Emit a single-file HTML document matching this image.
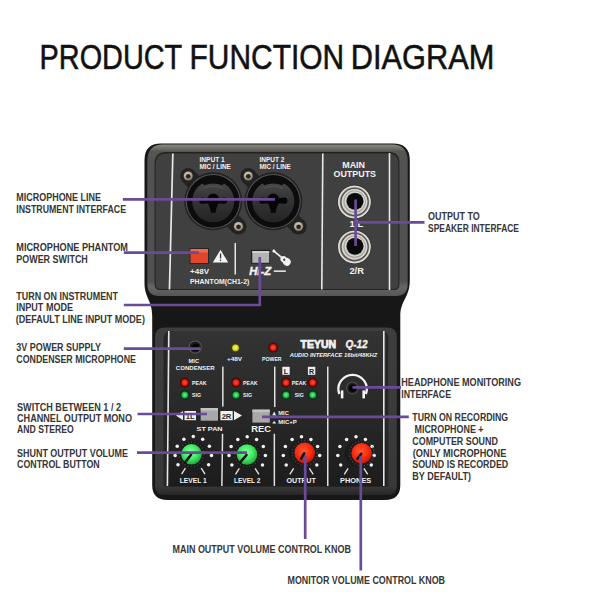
<!DOCTYPE html>
<html><head><meta charset="utf-8">
<style>
html,body{margin:0;padding:0;background:#fff;width:600px;height:600px;overflow:hidden}
svg{display:block}
text{font-family:"Liberation Sans",sans-serif}
.lb{font-size:11px;fill:#363636;font-weight:bold}
.w{fill:#f2f2f2;font-weight:bold}
.pl{stroke:#6a4b98;stroke-width:2.7;fill:none}
</style></head><body>
<svg width="600" height="600" viewBox="0 0 600 600">
<defs>
<radialGradient id="silver" cx="45%" cy="40%" r="60%">
<stop offset="0" stop-color="#e4dccc"/><stop offset="0.6" stop-color="#b8ae9c"/><stop offset="1" stop-color="#6e665a"/>
</radialGradient>
<linearGradient id="xlrface" x1="0" y1="0" x2="0" y2="1">
<stop offset="0" stop-color="#4a4a4a"/><stop offset="0.35" stop-color="#383838"/><stop offset="1" stop-color="#242424"/>
</linearGradient>
<radialGradient id="gk" cx="45%" cy="40%" r="60%">
<stop offset="0" stop-color="#8cffa4"/><stop offset="0.55" stop-color="#42ec66"/><stop offset="1" stop-color="#20a83e"/>
</radialGradient>
<radialGradient id="rk" cx="45%" cy="40%" r="60%">
<stop offset="0" stop-color="#ff5a36"/><stop offset="0.6" stop-color="#fa2c10"/><stop offset="1" stop-color="#c01808"/>
</radialGradient>
<linearGradient id="rimg" x1="0" y1="0" x2="0" y2="1">
<stop offset="0" stop-color="#8c8a82"/><stop offset="0.048" stop-color="#56564f"/><stop offset="0.12" stop-color="#525252"/><stop offset="0.9" stop-color="#505050"/><stop offset="0.94" stop-color="#666"/><stop offset="1" stop-color="#555"/>
</linearGradient>
<linearGradient id="lrimg" x1="0" y1="0" x2="0" y2="1">
<stop offset="0" stop-color="#3e3e3e"/><stop offset="0.95" stop-color="#383838"/><stop offset="1" stop-color="#262626"/>
</linearGradient>
<radialGradient id="silver2" cx="40%" cy="35%" r="70%">
<stop offset="0" stop-color="#f2f2ee"/><stop offset="0.5" stop-color="#c6c4bd"/><stop offset="1" stop-color="#74726d"/>
</radialGradient>
<linearGradient id="lpg" x1="0" y1="0" x2="0" y2="1">
<stop offset="0" stop-color="#333"/><stop offset="0.45" stop-color="#2a2a2a"/><stop offset="1" stop-color="#1c1c1c"/>
</linearGradient>
<radialGradient id="ledr"><stop offset="0" stop-color="#ff5040"/><stop offset="0.7" stop-color="#f02010"/><stop offset="1" stop-color="#a01008"/></radialGradient>
<radialGradient id="ledg"><stop offset="0" stop-color="#80f0a0"/><stop offset="0.6" stop-color="#30c855"/><stop offset="1" stop-color="#16803a"/></radialGradient>
<radialGradient id="ledy"><stop offset="0" stop-color="#f8f860"/><stop offset="0.7" stop-color="#d8d830"/><stop offset="1" stop-color="#8a8a18"/></radialGradient>
</defs>

<!-- Title -->
<g fill="#111" stroke="#111" stroke-width="0.55" font-size="35.3">
<text x="39.6" y="68.6" textLength="142.6" lengthAdjust="spacingAndGlyphs">PRODUCT</text>
<text x="189.6" y="68.6" textLength="154.6" lengthAdjust="spacingAndGlyphs">FUNCTION</text>
<text x="350.8" y="68.6" textLength="143.6" lengthAdjust="spacingAndGlyphs">DIAGRAM</text>
</g>

<!-- ===== DEVICE BODY ===== -->
<path d="M144.5,160 Q144.5,143.4 161,143.4 L393,143.4 Q409.8,143.4 409.8,160 L409.8,280 C409.8,298 400.3,300 400.3,316 L400.3,485 Q400.3,500 385,500 L167.5,500 Q152.2,500 152.2,485 L152.2,316 C152.2,300 144.5,298 144.5,283 Z" fill="#171717"/>
<!-- upper rim -->
<path d="M147.3,161 Q147.3,144.4 163,144.4 L392,144.4 Q407.7,144.4 407.7,161 L407.7,284 Q407.7,296 396,296 L159,296 Q147.3,296 147.3,284 Z" fill="url(#rimg)"/>
<!-- groove + panel -->
<path d="M154.6,164 Q154.6,152 166,152 L389,152 Q399.4,152 399.4,163 L399.4,284 Q399.4,290 394,290 L160,290 Q154.6,290 154.6,284 Z" fill="#222"/>
<path d="M155.6,164.5 Q155.6,153.5 166.5,153.5 L388.5,153.5 Q398.4,153.5 398.4,163.5 L398.4,283.5 Q398.4,289 393.5,289 L160.5,289 Q155.6,289 155.6,283.5 Z" fill="#404040"/>
<!-- lower rim -->
<path d="M155,337 Q155,327.5 165,327.5 L387,327.5 Q396.8,327.5 396.8,337 L396.8,486 Q396.8,495 388,495 L164,495 Q155,495 155,486 Z" fill="url(#lrimg)"/>
<path d="M163.5,340 Q163.5,331 171,331 L381,331 Q388.3,331 388.3,339 L388.3,486.5 L163.5,486.5 Z" fill="#262626"/>
<path d="M167,340 Q167,331 174,331 L381,331 Q386,331 386,338 L386,486.5 L167,486.5 Z" fill="url(#lpg)"/>
<!-- upper panel white lines -->
<path d="M172,153.5 L173.7,153.5 L170.3,289.5 L168.6,289.5 Z" fill="#e8e8e8"/>
<path d="M322,153.5 L323.6,153.5 L322.6,289.5 L321,289.5 Z" fill="#e8e8e8"/>
<rect x="388.7" y="153" width="1.6" height="137" fill="#e8e8e8"/>

<!-- INPUT labels -->
<text x="199.4" y="162.4" font-size="6.4" class="w" textLength="25.4" lengthAdjust="spacingAndGlyphs">INPUT 1</text>
<text x="199.4" y="169" font-size="6.4" class="w" textLength="31.4" lengthAdjust="spacingAndGlyphs">MIC / LINE</text>
<text x="259.4" y="162.4" font-size="6.4" class="w" textLength="25" lengthAdjust="spacingAndGlyphs">INPUT 2</text>
<text x="259.4" y="169" font-size="6.4" class="w" textLength="31.4" lengthAdjust="spacingAndGlyphs">MIC / LINE</text>

<!-- XLR combo jack 1 -->
<g transform="translate(213.2,201.3)">
<g>
<g fill="#222"><circle cx="0" cy="0" r="29"/><circle cx="-25" cy="-25.2" r="8"/><circle cx="25.3" cy="25.2" r="8"/><rect x="-36" y="-8" width="72" height="16" transform="rotate(45)"/></g>
<circle cx="0" cy="0" r="27.4" fill="#555"/>
<circle cx="0" cy="0" r="26.4" fill="#0c0c0c"/>
<circle cx="0" cy="0" r="21" fill="url(#xlrface)"/>
<path d="M-12,-19 Q0,-24 12,-19 L9,-16 Q0,-19.5 -9,-16 Z" fill="#0c0c0c"/>
<path d="M-10,-13 Q0,-17 10,-13" fill="none" stroke="#555" stroke-width="0.9"/>
<circle cx="0" cy="-2.3" r="5.6" fill="#060606"/>
<circle cx="-11" cy="-0.6" r="3.1" fill="#060606"/>
<circle cx="11" cy="-0.6" r="3.1" fill="#060606"/>
<rect x="-11" y="-3.4" width="22" height="5.6" fill="#060606"/>
<path d="M-5.5,1 L5.5,1 L2.6,9 L2.6,11.5 L-2.6,11.5 L-2.6,9 Z" fill="#060606"/>
<circle cx="-25" cy="-25.3" r="5.4" fill="#2a2825"/>
<circle cx="-25" cy="-25.3" r="4.6" fill="url(#silver)"/>
<circle cx="-25" cy="-25" r="2.4" fill="#2a2622"/>
<circle cx="25.3" cy="25.2" r="5.4" fill="#2a2825"/>
<circle cx="25.3" cy="25.2" r="4.6" fill="url(#silver)"/>
<circle cx="25.3" cy="25.5" r="2.4" fill="#2a2622"/>
</g>
</g>
<g transform="translate(273.3,201.3)">
<g fill="#222"><circle cx="0" cy="0" r="29"/><circle cx="-25" cy="-25.2" r="8"/><circle cx="25.3" cy="25.2" r="8"/><rect x="-36" y="-8" width="72" height="16" transform="rotate(45)"/></g>
<circle cx="0" cy="0" r="27.4" fill="#555"/>
<circle cx="0" cy="0" r="26.4" fill="#0c0c0c"/>
<circle cx="0" cy="0" r="21" fill="url(#xlrface)"/>
<path d="M-12,-19 Q0,-24 12,-19 L9,-16 Q0,-19.5 -9,-16 Z" fill="#0c0c0c"/>
<path d="M-10,-13 Q0,-17 10,-13" fill="none" stroke="#555" stroke-width="0.9"/>
<circle cx="0" cy="-2.3" r="5.6" fill="#060606"/>
<circle cx="-11" cy="-0.6" r="3.1" fill="#060606"/>
<circle cx="11" cy="-0.6" r="3.1" fill="#060606"/>
<rect x="-11" y="-3.4" width="22" height="5.6" fill="#060606"/>
<path d="M-5.5,1 L5.5,1 L2.6,9 L2.6,11.5 L-2.6,11.5 L-2.6,9 Z" fill="#060606"/>
<circle cx="-25" cy="-25.3" r="5.4" fill="#2a2825"/>
<circle cx="-25" cy="-25.3" r="4.6" fill="url(#silver)"/>
<circle cx="-25" cy="-25" r="2.4" fill="#2a2622"/>
<circle cx="25.3" cy="25.2" r="5.4" fill="#2a2825"/>
<circle cx="25.3" cy="25.2" r="4.6" fill="url(#silver)"/>
<circle cx="25.3" cy="25.5" r="2.4" fill="#2a2622"/>
</g>

<!-- phantom switch -->
<rect x="189.5" y="248" width="19.5" height="16" fill="#262626"/>
<rect x="190.5" y="249" width="17.5" height="14" fill="#e2452a"/>
<rect x="190.5" y="249" width="17.5" height="3.5" fill="#f26848"/>
<path d="M220.5,249.8 L228.2,262.5 L212.8,262.5 Z" fill="#f4f4f4"/>
<rect x="219.9" y="253.5" width="1.3" height="5" fill="#333"/>
<rect x="219.9" y="259.6" width="1.3" height="1.3" fill="#333"/>
<text x="190" y="274.3" font-size="7.6" class="w" textLength="19" lengthAdjust="spacingAndGlyphs">+48V</text>
<text x="190" y="284" font-size="7.3" class="w" textLength="59.3" lengthAdjust="spacingAndGlyphs">PHANTOM(CH1-2)</text>
<rect x="234.5" y="243" width="1.5" height="31.5" fill="#e6e6e6"/>

<!-- Hi-Z -->
<rect x="251.2" y="249.8" width="18.8" height="13.8" fill="#1e1e1e"/>
<rect x="252.3" y="251" width="16.9" height="11.8" fill="#b4b4b4"/>
<rect x="252.3" y="251" width="16.9" height="2" fill="#cfcfcf"/>
<g transform="translate(284.8,260.2) rotate(-50)" fill="#f2f2f2">
<rect x="-0.85" y="-14.5" width="1.7" height="11"/>
<rect x="-1.4" y="-15.5" width="2.8" height="2.5" rx="0.6"/>
<circle cx="0" cy="-1.6" r="3.1"/>
<circle cx="0" cy="2.6" r="3.9"/>
<circle cx="0" cy="-0.8" r="1.15" fill="#3b3b3b"/>
</g>
<text x="249.2" y="274.8" font-size="10" class="w" font-style="italic" stroke="#f2f2f2" stroke-width="0.35" textLength="22" lengthAdjust="spacingAndGlyphs">Hi-Z</text>
<rect x="273.8" y="270.4" width="12" height="1.5" fill="#eee"/>

<!-- MAIN OUTPUTS -->
<text x="342.2" y="167.5" font-size="8.4" class="w" textLength="22.9" lengthAdjust="spacingAndGlyphs">MAIN</text>
<text x="333.5" y="177" font-size="8.4" class="w" textLength="42.5" lengthAdjust="spacingAndGlyphs">OUTPUTS</text>
<g>
<circle cx="354.4" cy="202" r="17.2" fill="#3a3936"/>
<circle cx="354.4" cy="202" r="16.2" fill="#a4a29b"/>
<circle cx="354.4" cy="202" r="15.6" fill="none" stroke="#e2e0da" stroke-width="1.4"/>
<circle cx="354.5" cy="202" r="13.6" fill="none" stroke="#55534e" stroke-width="1.4"/>
<circle cx="354.6" cy="201.8" r="12" fill="none" stroke="#d8d6d0" stroke-width="1.6"/>
<circle cx="354.8" cy="201.5" r="10.2" fill="#aeaca6"/>
<circle cx="354.8" cy="201.5" r="9.6" fill="none" stroke="#e6e4de" stroke-width="1"/>
<circle cx="355" cy="201.3" r="8.4" fill="#0a0a0a"/>
</g>
<g transform="translate(0,45)">
<circle cx="354.4" cy="202" r="17.2" fill="#3a3936"/>
<circle cx="354.4" cy="202" r="16.2" fill="#a4a29b"/>
<circle cx="354.4" cy="202" r="15.6" fill="none" stroke="#e2e0da" stroke-width="1.4"/>
<circle cx="354.5" cy="202" r="13.6" fill="none" stroke="#55534e" stroke-width="1.4"/>
<circle cx="354.6" cy="201.8" r="12" fill="none" stroke="#d8d6d0" stroke-width="1.6"/>
<circle cx="354.8" cy="201.5" r="10.2" fill="#aeaca6"/>
<circle cx="354.8" cy="201.5" r="9.6" fill="none" stroke="#e6e4de" stroke-width="1"/>
<circle cx="355" cy="201.3" r="8.4" fill="#0a0a0a"/>
</g>
<text x="349.6" y="227.3" font-size="9.3" class="w" textLength="13.5" lengthAdjust="spacingAndGlyphs">1/L</text>
<text x="349.4" y="273.6" font-size="9.6" class="w" textLength="14.5" lengthAdjust="spacingAndGlyphs">2/R</text>

<!-- ===== LOWER PANEL ===== -->
<!-- white lines lower -->
<path d="M168,331 L169.6,331 L168.2,486 L166.6,486 Z" fill="#e6e6e6"/>
<rect x="383" y="331" width="1.6" height="155" fill="#e6e6e6"/>
<rect x="222.1" y="366.6" width="1.5" height="40" fill="#e0e0e0"/>
<path d="M221.8,433.8 L223.3,433.8 L222.6,486 L221.1,486 Z" fill="#e0e0e0"/>
<rect x="274" y="366.6" width="1.5" height="40.4" fill="#e0e0e0"/>
<rect x="273.6" y="433.8" width="1.5" height="52.2" fill="#e0e0e0"/>
<rect x="327" y="366.6" width="1.5" height="119.4" fill="#e0e0e0"/>

<!-- mic jack -->
<circle cx="195.3" cy="347" r="6.6" fill="#5a5a5a"/>
<circle cx="195.3" cy="347" r="5.6" fill="#1a1a1a"/>
<circle cx="195.6" cy="347.4" r="3.6" fill="#050505"/>
<text x="188.6" y="362.6" font-size="5.8" class="w" textLength="10.4" lengthAdjust="spacingAndGlyphs">MIC</text>
<text x="175.8" y="369.6" font-size="6" class="w" textLength="38.8" lengthAdjust="spacingAndGlyphs">CONDENSER</text>

<!-- +48V / POWER LEDs -->
<circle cx="235.5" cy="347.8" r="5" fill="#3a3a10"/>
<circle cx="235.5" cy="347.8" r="3.6" fill="url(#ledy)"/>
<text x="227.1" y="360.8" font-size="6" class="w" textLength="15" lengthAdjust="spacingAndGlyphs">+48V</text>
<circle cx="273.2" cy="347.5" r="5" fill="#4a0c08"/>
<circle cx="273.2" cy="347.5" r="3.6" fill="url(#ledr)"/>
<text x="262" y="361" font-size="6" class="w" textLength="19.6" lengthAdjust="spacingAndGlyphs">POWER</text>

<!-- Brand -->
<text x="300.6" y="347.6" font-size="10.2" class="w" font-weight="bold" stroke="#f2f2f2" stroke-width="0.75" textLength="35.4" lengthAdjust="spacingAndGlyphs">TEYUN</text>
<text x="345.4" y="347.6" font-size="10.2" class="w" font-style="italic" stroke="#f2f2f2" stroke-width="0.35" textLength="22.2" lengthAdjust="spacingAndGlyphs">Q-12</text>
<text x="289.8" y="356.8" font-size="5" class="w" font-style="italic" textLength="87.4" lengthAdjust="spacingAndGlyphs">AUDIO INTERFACE 16bit/48KHZ</text>

<!-- channel LEDs -->
<circle cx="184.8" cy="382.6" r="5" fill="#4a0c08"/><circle cx="184.8" cy="382.6" r="3.5" fill="url(#ledr)"/>
<circle cx="184.8" cy="394.9" r="5" fill="#0a3616"/><circle cx="184.8" cy="394.9" r="3.5" fill="url(#ledg)"/>
<circle cx="236" cy="382.6" r="5" fill="#4a0c08"/><circle cx="236" cy="382.6" r="3.5" fill="url(#ledr)"/>
<circle cx="236" cy="394.9" r="5" fill="#0a3616"/><circle cx="236" cy="394.9" r="3.5" fill="url(#ledg)"/>
<circle cx="286" cy="382.6" r="5" fill="#4a0c08"/><circle cx="286" cy="382.6" r="3.5" fill="url(#ledr)"/>
<circle cx="286" cy="394.9" r="5" fill="#0a3616"/><circle cx="286" cy="394.9" r="3.5" fill="url(#ledg)"/>
<circle cx="312.7" cy="382.6" r="5" fill="#4a0c08"/><circle cx="312.7" cy="382.6" r="3.5" fill="url(#ledr)"/>
<circle cx="312.7" cy="394.9" r="5" fill="#0a3616"/><circle cx="312.7" cy="394.9" r="3.5" fill="url(#ledg)"/>
<text x="192" y="384.8" font-size="5.4" class="w" textLength="14.6" lengthAdjust="spacingAndGlyphs">PEAK</text>
<text x="192" y="397.2" font-size="5.4" class="w" textLength="9" lengthAdjust="spacingAndGlyphs">SIG</text>
<text x="243" y="384.8" font-size="5.4" class="w" textLength="14.6" lengthAdjust="spacingAndGlyphs">PEAK</text>
<text x="243" y="397.2" font-size="5.4" class="w" textLength="9" lengthAdjust="spacingAndGlyphs">SIG</text>
<text x="291.8" y="384.8" font-size="5.4" class="w" textLength="14.6" lengthAdjust="spacingAndGlyphs">PEAK</text>
<text x="294.8" y="397.2" font-size="5.4" class="w" textLength="9" lengthAdjust="spacingAndGlyphs">SIG</text>
<rect x="282.3" y="366.8" width="7.4" height="8" fill="#eee"/>
<text x="286" y="373.6" font-size="7" font-weight="bold" fill="#222" text-anchor="middle">L</text>
<rect x="307.9" y="366.8" width="7.4" height="8" fill="#eee"/>
<text x="311.6" y="373.6" font-size="7" font-weight="bold" fill="#222" text-anchor="middle">R</text>

<!-- headphone icon -->
<path d="M339.3,394 A14.2,14.2 0 1 1 365.9,394" fill="none" stroke="#f4f4f4" stroke-width="2.2"/>
<rect x="340.8" y="390.4" width="2.6" height="8" fill="#f4f4f4"/>
<rect x="362.4" y="390.4" width="2.6" height="8" fill="#f4f4f4"/>
<circle cx="352.4" cy="388" r="6.4" fill="#4a4a4a"/>
<circle cx="352.4" cy="388" r="5.2" fill="#1e1e1e"/>
<circle cx="352.6" cy="388.2" r="3.8" fill="#050505"/>

<!-- ST PAN switch -->
<path d="M176,415.6 L183,411 L183,420.2 Z" fill="#f0f0f0"/>
<rect x="184.5" y="411" width="11.5" height="9.2" fill="#f0f0f0"/>
<text x="190.2" y="418.8" font-size="7.6" font-weight="bold" fill="#2a2a2a" text-anchor="middle">1L</text>
<rect x="200.7" y="408" width="17.3" height="12.7" fill="#a8a8a8"/>
<rect x="200.7" y="408" width="17.3" height="2.5" fill="#c2c2c2"/>
<rect x="220.4" y="411" width="12.3" height="9.2" fill="#f0f0f0"/>
<text x="226.5" y="418.6" font-size="7.6" font-weight="bold" fill="#2a2a2a" text-anchor="middle">2R</text>
<path d="M242,415.6 L234,411 L234,420.2 Z" fill="#f0f0f0"/>
<text x="196.6" y="431.4" font-size="6.2" class="w" textLength="26" lengthAdjust="spacingAndGlyphs">ST PAN</text>

<!-- REC switch -->
<rect x="252.4" y="409.6" width="17.4" height="13" fill="#a8a8a8"/>
<rect x="252.4" y="409.6" width="17.4" height="2.5" fill="#c2c2c2"/>
<text x="251.2" y="431.8" font-size="8.8" class="w" textLength="19.8" lengthAdjust="spacingAndGlyphs">REC</text>
<path d="M272.2,415.4 L274.2,411.6 L276.2,415.4 Z" fill="#eee"/>
<text x="278.3" y="415.4" font-size="5.6" class="w" textLength="10.5" lengthAdjust="spacingAndGlyphs">MIC</text>
<path d="M272.2,423.4 L274.2,421 L276.2,423.4 Z" fill="#eee"/>
<text x="278.3" y="423.8" font-size="5.6" class="w" textLength="18.5" lengthAdjust="spacingAndGlyphs">MIC+P</text>

<!-- knobs -->
<g id="knobs">
<circle cx="192.4" cy="454.3" r="14" fill="#1a1a1a"/>
<circle cx="193.3" cy="436.6" r="1.75" fill="#f4f4f4"/>
<circle cx="202.7" cy="439.2" r="1.75" fill="#f4f4f4"/>
<circle cx="209.4" cy="446.3" r="1.75" fill="#f4f4f4"/>
<circle cx="211.5" cy="455.4" r="1.75" fill="#f4f4f4"/>
<circle cx="208.6" cy="464.7" r="1.75" fill="#f4f4f4"/>
<circle cx="183.9" cy="439.2" r="1.75" fill="#f4f4f4"/>
<circle cx="177.2" cy="446.3" r="1.75" fill="#f4f4f4"/>
<circle cx="175.1" cy="455.4" r="1.75" fill="#f4f4f4"/>
<circle cx="178.0" cy="464.7" r="1.75" fill="#f4f4f4"/>
<path d="M185.4,468.2 L181.6,474.2" stroke="#e8e8e8" stroke-width="1.3"/>
<path d="M201.2,468.2 L205.0,474.2" stroke="#e8e8e8" stroke-width="1.3"/>
<circle cx="191.5" cy="454.3" r="12.4" fill="none" stroke="#5a5a5a" stroke-width="1.3" stroke-dasharray="1 2.2" opacity="0.8"/>
<circle cx="191.5" cy="454.3" r="10.3" fill="url(#gk)"/>
<path d="M191.0,454.8 L185.2,462.3" stroke="#111" stroke-width="2.6" stroke-linecap="round"/>
<circle cx="247.1" cy="454.5" r="14" fill="#1a1a1a"/>
<circle cx="247.2" cy="436.8" r="1.75" fill="#f4f4f4"/>
<circle cx="256.6" cy="439.4" r="1.75" fill="#f4f4f4"/>
<circle cx="263.3" cy="446.5" r="1.75" fill="#f4f4f4"/>
<circle cx="265.4" cy="455.6" r="1.75" fill="#f4f4f4"/>
<circle cx="262.5" cy="464.9" r="1.75" fill="#f4f4f4"/>
<circle cx="237.8" cy="439.4" r="1.75" fill="#f4f4f4"/>
<circle cx="231.1" cy="446.5" r="1.75" fill="#f4f4f4"/>
<circle cx="229.0" cy="455.6" r="1.75" fill="#f4f4f4"/>
<circle cx="231.9" cy="464.9" r="1.75" fill="#f4f4f4"/>
<path d="M239.3,468.4 L235.5,474.4" stroke="#e8e8e8" stroke-width="1.3"/>
<path d="M255.1,468.4 L258.9,474.4" stroke="#e8e8e8" stroke-width="1.3"/>
<circle cx="247.0" cy="454.5" r="12.4" fill="none" stroke="#5a5a5a" stroke-width="1.3" stroke-dasharray="1 2.2" opacity="0.8"/>
<circle cx="247.0" cy="454.5" r="10.3" fill="url(#gk)"/>
<path d="M246.5,455.0 L240.1,462.3" stroke="#111" stroke-width="2.6" stroke-linecap="round"/>
<circle cx="303.1" cy="452.9" r="14" fill="#1a1a1a"/>
<circle cx="301.5" cy="436.8" r="1.75" fill="#f4f4f4"/>
<circle cx="310.9" cy="439.4" r="1.75" fill="#f4f4f4"/>
<circle cx="317.6" cy="446.5" r="1.75" fill="#f4f4f4"/>
<circle cx="319.7" cy="455.6" r="1.75" fill="#f4f4f4"/>
<circle cx="316.8" cy="464.9" r="1.75" fill="#f4f4f4"/>
<circle cx="292.1" cy="439.4" r="1.75" fill="#f4f4f4"/>
<circle cx="285.4" cy="446.5" r="1.75" fill="#f4f4f4"/>
<circle cx="283.3" cy="455.6" r="1.75" fill="#f4f4f4"/>
<circle cx="286.2" cy="464.9" r="1.75" fill="#f4f4f4"/>
<path d="M293.6,468.4 L289.8,474.4" stroke="#e8e8e8" stroke-width="1.3"/>
<path d="M309.4,468.4 L313.2,474.4" stroke="#e8e8e8" stroke-width="1.3"/>
<circle cx="304.7" cy="452.9" r="12.4" fill="none" stroke="#5a5a5a" stroke-width="1.3" stroke-dasharray="1 2.2" opacity="0.8"/>
<circle cx="304.7" cy="452.9" r="10.3" fill="url(#rk)"/>
<path d="M304.2,453.4 L301.2,458.6" stroke="#111" stroke-width="2.6" stroke-linecap="round"/>
<circle cx="358.9" cy="453.3" r="14" fill="#1a1a1a"/>
<circle cx="356.0" cy="436.8" r="1.75" fill="#f4f4f4"/>
<circle cx="365.4" cy="439.4" r="1.75" fill="#f4f4f4"/>
<circle cx="372.1" cy="446.5" r="1.75" fill="#f4f4f4"/>
<circle cx="374.2" cy="455.6" r="1.75" fill="#f4f4f4"/>
<circle cx="371.3" cy="464.9" r="1.75" fill="#f4f4f4"/>
<circle cx="346.6" cy="439.4" r="1.75" fill="#f4f4f4"/>
<circle cx="339.9" cy="446.5" r="1.75" fill="#f4f4f4"/>
<circle cx="337.8" cy="455.6" r="1.75" fill="#f4f4f4"/>
<circle cx="340.7" cy="464.9" r="1.75" fill="#f4f4f4"/>
<path d="M348.1,468.4 L344.3,474.4" stroke="#e8e8e8" stroke-width="1.3"/>
<path d="M363.9,468.4 L367.7,474.4" stroke="#e8e8e8" stroke-width="1.3"/>
<circle cx="361.7" cy="453.3" r="12.4" fill="none" stroke="#5a5a5a" stroke-width="1.3" stroke-dasharray="1 2.2" opacity="0.8"/>
<circle cx="361.7" cy="453.3" r="10.3" fill="url(#rk)"/>
<path d="M361.2,453.8 L357.5,458.8" stroke="#111" stroke-width="2.6" stroke-linecap="round"/>

</g>

<!-- knob labels -->
<text x="179.8" y="482.6" font-size="6.6" class="w" textLength="26.9" lengthAdjust="spacingAndGlyphs">LEVEL 1</text>
<text x="234" y="482.6" font-size="6.6" class="w" textLength="26.3" lengthAdjust="spacingAndGlyphs">LEVEL 2</text>
<text x="286.5" y="482.8" font-size="6.8" class="w" textLength="29.3" lengthAdjust="spacingAndGlyphs">OUTPUT</text>
<text x="340.1" y="482.8" font-size="6.8" class="w" textLength="31.2" lengthAdjust="spacingAndGlyphs">PHONES</text>

<!-- ===== CALLOUT LINES ===== -->
<g class="pl">
<path d="M122.8,199.4 L275,199.4"/>
<path d="M123.8,252.6 L199,252.6"/>
<path d="M259.8,257 L259.8,305 L123.8,305"/>
<path d="M123.8,348.6 L200.5,348.6"/>
<path d="M137.5,414 L207,414"/>
<path d="M137,452.6 L247,452.6"/>
<path d="M355.6,199.5 L355.6,246"/>
<path d="M355.6,222.4 L424.5,222.4"/>
<path d="M352.5,387.4 L401,387.4"/>
<path d="M262,416.8 L408.8,416.8"/>
<path d="M305.2,456 L305.2,539"/>
<path d="M360.8,456 L360.8,570.5"/>
</g>

<!-- ===== LABELS ===== -->
<g class="lb">
<text x="16.3" y="201.3" textLength="84.7" lengthAdjust="spacingAndGlyphs">MICROPHONE LINE</text>
<text x="16.3" y="213" textLength="109.7" lengthAdjust="spacingAndGlyphs">INSTRUMENT INTERFACE</text>
<text x="16.3" y="251.3" textLength="111.7" lengthAdjust="spacingAndGlyphs">MICROPHONE PHANTOM</text>
<text x="16.3" y="263" textLength="71.5" lengthAdjust="spacingAndGlyphs">POWER SWITCH</text>
<text x="16.3" y="299.5" textLength="101.7" lengthAdjust="spacingAndGlyphs">TURN ON INSTRUMENT</text>
<text x="16.3" y="311.3" textLength="56.7" lengthAdjust="spacingAndGlyphs">INPUT MODE</text>
<text x="15.8" y="322.8" textLength="129.1" lengthAdjust="spacingAndGlyphs">(DEFAULT LINE INPUT MODE)</text>
<text x="16.3" y="351.3" textLength="84.8" lengthAdjust="spacingAndGlyphs">3V POWER SUPPLY</text>
<text x="16.3" y="362.5" textLength="119.7" lengthAdjust="spacingAndGlyphs">CONDENSER MICROPHONE</text>
<text x="17" y="410.5" textLength="104.0" lengthAdjust="spacingAndGlyphs">SWITCH BETWEEN 1 / 2</text>
<text x="17" y="421.8" textLength="115.0" lengthAdjust="spacingAndGlyphs">CHANNEL OUTPUT MONO</text>
<text x="17" y="432.5" textLength="56.8" lengthAdjust="spacingAndGlyphs">AND STEREO</text>
<text x="17" y="456.8" textLength="111.0" lengthAdjust="spacingAndGlyphs">SHUNT OUTPUT VOLUME</text>
<text x="17" y="467.5" textLength="82.7" lengthAdjust="spacingAndGlyphs">CONTROL BUTTON</text>
<text x="428" y="220" textLength="51.7" lengthAdjust="spacingAndGlyphs">OUTPUT TO</text>
<text x="428" y="231.8" textLength="91.0" lengthAdjust="spacingAndGlyphs">SPEAKER INTERFACE</text>
<text x="401.3" y="386.3" textLength="119.7" lengthAdjust="spacingAndGlyphs">HEADPHONE MONITORING</text>
<text x="401.3" y="397.5" textLength="49.7" lengthAdjust="spacingAndGlyphs">INTERFACE</text>
<text x="412.3" y="421.4" textLength="95.8" lengthAdjust="spacingAndGlyphs">TURN ON RECORDING</text>
<text x="414.5" y="433" textLength="69.0" lengthAdjust="spacingAndGlyphs">MICROPHONE +</text>
<text x="412.3" y="444.9" textLength="85.6" lengthAdjust="spacingAndGlyphs">COMPUTER SOUND</text>
<text x="412.8" y="456.8" textLength="93.5" lengthAdjust="spacingAndGlyphs">(ONLY MICROPHONE</text>
<text x="412.3" y="468.3" textLength="95.9" lengthAdjust="spacingAndGlyphs">SOUND IS RECORDED</text>
<text x="412.3" y="479.7" textLength="58.8" lengthAdjust="spacingAndGlyphs">BY DEFAULT)</text>
<text x="172.5" y="552.5" textLength="178.5" lengthAdjust="spacingAndGlyphs">MAIN OUTPUT VOLUME CONTROL KNOB</text>
<text x="287.5" y="583.5" textLength="157.5" lengthAdjust="spacingAndGlyphs">MONITOR VOLUME CONTROL KNOB</text>
</g>
</svg>
</body></html>
